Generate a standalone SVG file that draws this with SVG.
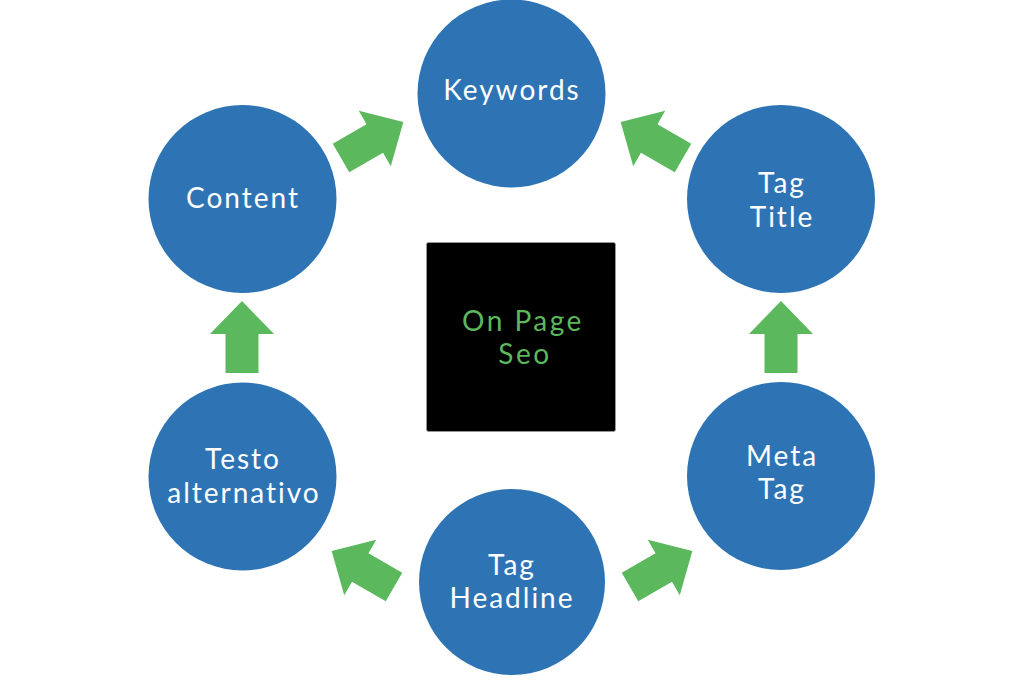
<svg xmlns="http://www.w3.org/2000/svg" width="1024" height="683" viewBox="0 0 1024 683">
  <style>
    .node { fill: #2E74B5; }
    .lbl { font-family: Lato, "Open Sans", "Liberation Sans", sans-serif; font-size: 28px; letter-spacing: 2px; fill: #ffffff; text-anchor: middle; }
    .center { font-family: Lato, "Open Sans", "Liberation Sans", sans-serif; font-size: 28px; letter-spacing: 2.5px; fill: #5CB85C; text-anchor: middle; }
    .arrow { fill: #5CB85C; }
  </style>
  <defs>
    <path id="blockArrow" d="M0,-16.5 L39,-16.5 L39,-32 L72,0 L39,32 L39,16.5 L0,16.5 Z"/>
  </defs>
  <rect width="1024" height="683" fill="#ffffff"/>

  <g id="connectors">
    <use href="#blockArrow" class="arrow" transform="translate(341,158) rotate(-30)"/>
    <use href="#blockArrow" class="arrow" transform="translate(683,158) rotate(-150)"/>
    <use href="#blockArrow" class="arrow" transform="translate(242,373) rotate(-90)"/>
    <use href="#blockArrow" class="arrow" transform="translate(781,373) rotate(-90)"/>
    <use href="#blockArrow" class="arrow" transform="translate(394,587) rotate(-150)"/>
    <use href="#blockArrow" class="arrow" transform="translate(630,587) rotate(-30)"/>
  </g>

  <g id="center-node">
    <rect x="426.5" y="242.5" width="189" height="189" rx="2" fill="#000000" stroke="#9a9a9a" stroke-width="0.8"/>
    <text class="center" x="523" y="331">On Page</text>
    <text class="center" x="525" y="364">Seo</text>
  </g>

  <g id="node-keywords">
    <circle class="node" cx="511.5" cy="93.5" r="94"/>
    <text class="lbl" x="512" y="100">Keywords</text>
  </g>

  <g id="node-content">
    <circle class="node" cx="242.5" cy="199" r="94"/>
    <text class="lbl" x="243" y="208">Content</text>
  </g>

  <g id="node-tag-title">
    <circle class="node" cx="781" cy="199" r="94"/>
    <text class="lbl" x="782" y="193">Tag</text>
    <text class="lbl" x="782" y="227">Title</text>
  </g>

  <g id="node-testo-alternativo">
    <circle class="node" cx="242.5" cy="476.5" r="94"/>
    <text class="lbl" x="243" y="469">Testo</text>
    <text class="lbl" x="244" y="503">alternativo</text>
  </g>

  <g id="node-meta-tag">
    <circle class="node" cx="781" cy="476" r="94"/>
    <text class="lbl" x="782" y="466">Meta</text>
    <text class="lbl" x="782" y="499">Tag</text>
  </g>

  <g id="node-tag-headline">
    <circle class="node" cx="512" cy="582" r="93"/>
    <text class="lbl" x="512" y="575">Tag</text>
    <text class="lbl" x="512" y="608">Headline</text>
  </g>
</svg>
